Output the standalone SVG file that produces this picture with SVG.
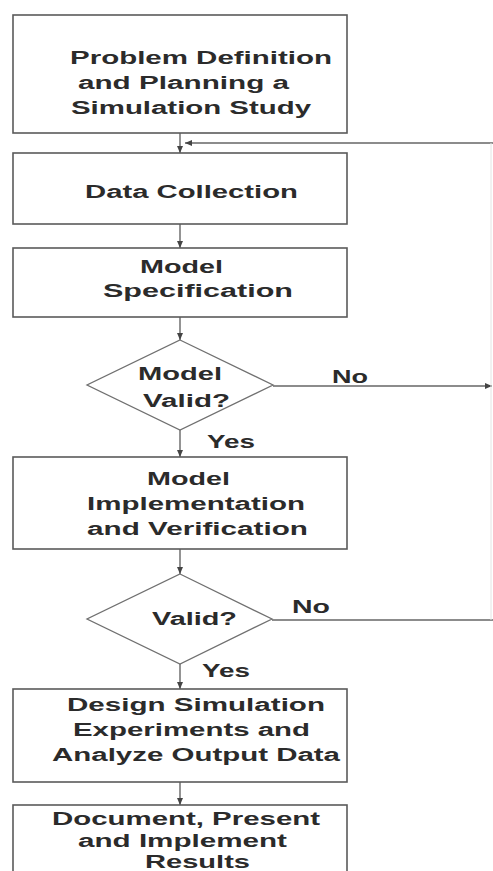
<svg xmlns="http://www.w3.org/2000/svg" width="493" height="871" viewBox="0 0 493 871">
<defs>
<style>
.box{fill:#fff;stroke:#5a5a5a;stroke-width:1.6}
.dia{fill:#fff;stroke:#707070;stroke-width:1.3}
.t{font-family:"Liberation Sans",Arial,sans-serif;font-weight:bold;font-size:18px;fill:#2b2b2b}
.c{fill:none;stroke:#666;stroke-width:1.4}
.faint{fill:none;stroke:#e4e4e4;stroke-width:1}
</style>
<marker id="ah" markerWidth="8" markerHeight="8" refX="7" refY="4" orient="auto" markerUnits="userSpaceOnUse">
<path d="M0,1 L7,4 L0,7 Z" fill="#444"/>
</marker>
</defs>
<rect width="493" height="871" fill="#fff"/>
<g id="connectors">
<line class="c" x1="180" y1="133" x2="180" y2="153" marker-end="url(#ah)"/>
<line class="c" x1="493" y1="143" x2="185" y2="143" marker-end="url(#ah)"/>
<line class="c" x1="180" y1="224" x2="180" y2="248" marker-end="url(#ah)"/>
<line class="c" x1="180" y1="317" x2="180" y2="340" marker-end="url(#ah)"/>
<line class="c" x1="180" y1="430" x2="180" y2="457" marker-end="url(#ah)"/>
<line class="c" x1="273" y1="386" x2="492" y2="386" marker-end="url(#ah)"/>
<line class="c" x1="180" y1="549" x2="180" y2="574" marker-end="url(#ah)"/>
<line class="c" x1="272" y1="620" x2="493" y2="620"/>
<line class="c" x1="180" y1="664" x2="180" y2="689" marker-end="url(#ah)"/>
<line class="c" x1="180" y1="782" x2="180" y2="805" marker-end="url(#ah)"/>
<line class="faint" x1="491" y1="143" x2="491" y2="620"/>
<text class="t" x="332" y="383" textLength="36" lengthAdjust="spacingAndGlyphs">No</text>
<text class="t" x="207" y="448" textLength="48" lengthAdjust="spacingAndGlyphs">Yes</text>
<text class="t" x="292" y="613" textLength="38" lengthAdjust="spacingAndGlyphs">No</text>
<text class="t" x="202" y="677" textLength="48" lengthAdjust="spacingAndGlyphs">Yes</text>
</g>
<g id="n1">
<rect class="box" x="13" y="15" width="334" height="118"/>
<text class="t" x="70" y="64" textLength="262" lengthAdjust="spacingAndGlyphs">Problem Definition</text>
<text class="t" x="78" y="89" textLength="211" lengthAdjust="spacingAndGlyphs">and Planning a</text>
<text class="t" x="71" y="114" textLength="240" lengthAdjust="spacingAndGlyphs">Simulation Study</text>
</g>
<g id="n2">
<rect class="box" x="13" y="153" width="334" height="71"/>
<text class="t" x="85" y="198" textLength="213" lengthAdjust="spacingAndGlyphs">Data Collection</text>
</g>
<g id="n3">
<rect class="box" x="13" y="248" width="334" height="69"/>
<text class="t" x="140" y="273" textLength="83" lengthAdjust="spacingAndGlyphs">Model</text>
<text class="t" x="103" y="297" textLength="190" lengthAdjust="spacingAndGlyphs">Specification</text>
</g>
<g id="d1">
<polygon class="dia" points="180,340 273,385 180,430 87,385"/>
<text class="t" x="138" y="380" textLength="84" lengthAdjust="spacingAndGlyphs">Model</text>
<text class="t" x="143" y="407" textLength="87" lengthAdjust="spacingAndGlyphs">Valid?</text>
</g>
<g id="n4">
<rect class="box" x="13" y="457" width="334" height="92"/>
<text class="t" x="147" y="485" textLength="83" lengthAdjust="spacingAndGlyphs">Model</text>
<text class="t" x="87" y="510" textLength="218" lengthAdjust="spacingAndGlyphs">Implementation</text>
<text class="t" x="87" y="535" textLength="221" lengthAdjust="spacingAndGlyphs">and Verification</text>
</g>
<g id="d2">
<polygon class="dia" points="180,574 272,619 180,664 87,619"/>
<text class="t" x="152" y="625" textLength="85" lengthAdjust="spacingAndGlyphs">Valid?</text>
</g>
<g id="n5">
<rect class="box" x="13" y="689" width="334" height="93"/>
<text class="t" x="67" y="711" textLength="258" lengthAdjust="spacingAndGlyphs">Design Simulation</text>
<text class="t" x="73" y="736" textLength="237" lengthAdjust="spacingAndGlyphs">Experiments and</text>
<text class="t" x="52" y="761" textLength="288" lengthAdjust="spacingAndGlyphs">Analyze Output Data</text>
</g>
<g id="n6">
<rect class="box" x="13" y="805" width="334" height="80"/>
<text class="t" x="52" y="825" textLength="268" lengthAdjust="spacingAndGlyphs">Document, Present</text>
<text class="t" x="78" y="847" textLength="209" lengthAdjust="spacingAndGlyphs">and Implement</text>
<text class="t" x="145" y="868" textLength="105" lengthAdjust="spacingAndGlyphs">Results</text>
</g>
</svg>
